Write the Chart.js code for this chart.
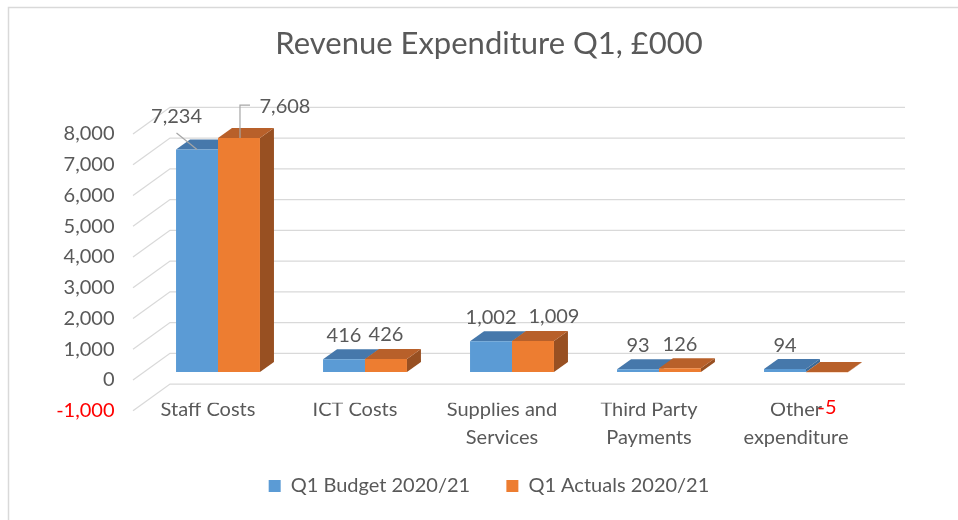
<!DOCTYPE html>
<html>
<head>
<meta charset="utf-8">
<script src="https://cdn.jsdelivr.net/npm/chart.js@4.4.0/dist/chart.umd.min.js"></script>
<style>
html, body { margin: 0; padding: 0; background: #fff; }
canvas { display: block; }
</style>
</head>
<body>
<canvas id="myChart" width="958" height="520"></canvas>
<script>
// data
var categorias = ["Staff Costs", "ICT Costs", ["Supplies and", "Services"], ["Third Party", "Payments"], ["Other", "expenditure"]];
var budget = [7234, 416, 1002, 93, 94];
var actuals = [7608, 426, 1009, 126, -5];
var yMin = -1000;
var yMax = 8000;
var yStep = 1000;

var gris = '#595959';
var rojo = '#ff0000';
var lineaGrid = '#d9d9d9';
var fuente = 'Lato';
// faces of the 3d bars: front, top, side
var caras = [
  { front: '#5b9bd5', top: '#4678ab', side: '#3d6a96' },
  { front: '#ed7d31', top: '#b8602a', side: '#985022' }
];
var DX = 14, DY = -10;

function fmt(v) {
  return Number(v).toLocaleString('en-US');
}

function poly(ctx, pts, color) {
  ctx.beginPath();
  ctx.moveTo(pts[0][0], pts[0][1]);
  for (var k = 1; k < pts.length; k++) ctx.lineTo(pts[k][0], pts[k][1]);
  ctx.closePath();
  ctx.fillStyle = color;
  ctx.fill();
}

// border + back wall and side wall gridlines
var fondo3d = {
  id: 'fondo3d',
  beforeDraw: function(chart) {
    var ctx = chart.ctx;
    var a = chart.chartArea;
    var y = chart.scales.y;
    ctx.save();
    ctx.fillStyle = '#fff';
    ctx.fillRect(0, 0, chart.width, chart.height);
    ctx.strokeStyle = lineaGrid;
    ctx.lineWidth = 1.5;
    ctx.beginPath();
    ctx.moveTo(8.5, chart.height);
    ctx.lineTo(8.5, 7.5);
    ctx.lineTo(chart.width, 7.5);
    ctx.stroke();
    ctx.lineWidth = 1.3;
    for (var v = yMin; v <= yMax; v += yStep) {
      var py = y.getPixelForValue(v);
      ctx.beginPath();
      ctx.moveTo(a.left - 11.5, py + 8);
      ctx.lineTo(a.left + 25.5, py - 18.7);
      ctx.lineTo(a.right + 25.5, py - 18.7);
      ctx.stroke();
    }
    ctx.restore();
  }
};

// top and side faces, drawn before the library draws the fronts
var barras3d = {
  id: 'barras3d',
  beforeDatasetsDraw: function(chart) {
    var ctx = chart.ctx;
    ctx.save();
    for (var i = 0; i < chart.data.labels.length; i++) {
      chart.data.datasets.forEach(function(ds, d) {
        var p = chart.getDatasetMeta(d).data[i].getProps(['x', 'y', 'base', 'width'], true);
        var l = p.x - p.width / 2, r = p.x + p.width / 2;
        var top = Math.min(p.y, p.base), bot = Math.max(p.y, p.base);
        poly(ctx, [[r, top], [r + DX, top + DY], [r + DX, bot + DY], [r, bot]], caras[d].side);
        poly(ctx, [[l, top], [l + DX, top + DY], [r + DX, top + DY], [r, top]], caras[d].top);
      });
    }
    ctx.restore();
  }
};

// value labels (some were moved in the original, two with leader lines)
var movidas = {
  '0-0': { dx: -20.5, dy: -9.5, leader: 'diag' },
  '1-0': { dx: 46, dy: -8, leader: 'codo' },
  '1-2': { dx: 21, dy: 0 }
};

var etiquetas = {
  id: 'etiquetas',
  afterDatasetsDraw: function(chart) {
    var ctx = chart.ctx;
    ctx.save();
    ctx.font = '20px ' + fuente;
    ctx.textAlign = 'center';
    ctx.textBaseline = 'middle';
    chart.data.datasets.forEach(function(ds, d) {
      chart.getDatasetMeta(d).data.forEach(function(bar, i) {
        var v = ds.data[i];
        var lx = bar.x, ly = v < 0 ? bar.base + 36 : bar.y - 24;
        var m = movidas[d + '-' + i];
        if (m) {
          lx += m.dx; ly += m.dy;
          if (m.leader) {
            ctx.strokeStyle = '#a6a6a6';
            ctx.lineWidth = 1.2;
            ctx.beginPath();
            if (m.leader === 'diag') {
              ctx.moveTo(lx, ly + 17);
              ctx.lineTo(bar.x, bar.y);
            } else {
              ctx.moveTo(lx - 35, ly - 1);
              ctx.lineTo(bar.x + 1, ly - 1);
              ctx.lineTo(bar.x + 1, bar.y);
            }
            ctx.stroke();
          }
        }
        ctx.fillStyle = v < 0 ? rojo : gris;
        ctx.fillText(fmt(v), lx, ly);
      });
    });
    ctx.restore();
  }
};

var ctx = document.getElementById('myChart').getContext('2d');
var myChart = new Chart(ctx, {
  type: 'bar',
  data: {
    labels: categorias,
    datasets: [{
      label: 'Q1 Budget 2020/21',
      data: budget,
      backgroundColor: caras[0].front
    }, {
      label: 'Q1 Actuals 2020/21',
      data: actuals,
      backgroundColor: caras[1].front
    }]
  },
  options: {
    responsive: false,
    animation: false,
    categoryPercentage: 0.571,
    barPercentage: 1,
    layout: { padding: { left: 40, right: 20, top: 0, bottom: 14 } },
    scales: {
      x: {
        grid: { display: false, drawTicks: false },
        border: { display: false },
        ticks: {
          color: gris,
          font: { family: fuente, size: 20, lineHeight: 1.4 },
          labelOffset: -10,
          padding: -7.5,
          maxRotation: 0,
          autoSkip: false
        },
        afterFit: function(s) { s.height = 47.25; }
      },
      y: {
        min: yMin,
        max: yMax,
        grid: { display: false, drawTicks: false },
        border: { display: false },
        ticks: {
          stepSize: yStep,
          padding: 30,
          labelOffset: 8,
          font: { family: fuente, size: 20 },
          color: function(c) { return c.tick && c.tick.value < 0 ? rojo : gris; },
          callback: function(v) { return fmt(v); }
        },
        afterFit: function(s) { s.width = 104.5; }
      },
      // empty right axis, only keeps the plot narrower on the right
      y2: {
        position: 'right',
        display: true,
        grid: { display: false, drawTicks: false },
        border: { display: false },
        ticks: { display: false },
        afterFit: function(s) { s.width = 58.5; }
      }
    },
    plugins: {
      title: {
        display: true,
        text: 'Revenue Expenditure Q1, £000',
        color: gris,
        font: { family: fuente, size: 31, weight: 'normal', lineHeight: 1.2 },
        padding: { top: 25.4, bottom: 63.4 }
      },
      legend: {
        position: 'bottom',
        labels: {
          color: gris,
          boxWidth: 12,
          boxHeight: 12,
          padding: 26,
          font: { family: fuente, size: 20 },
          generateLabels: function(chart) {
            var items = Chart.defaults.plugins.legend.labels.generateLabels(chart);
            items[0].text += '  ';
            return items;
          }
        }
      },
      tooltip: { enabled: false }
    }
  },
  plugins: [fondo3d, barras3d, etiquetas]
});
</script>
</body>
</html>
